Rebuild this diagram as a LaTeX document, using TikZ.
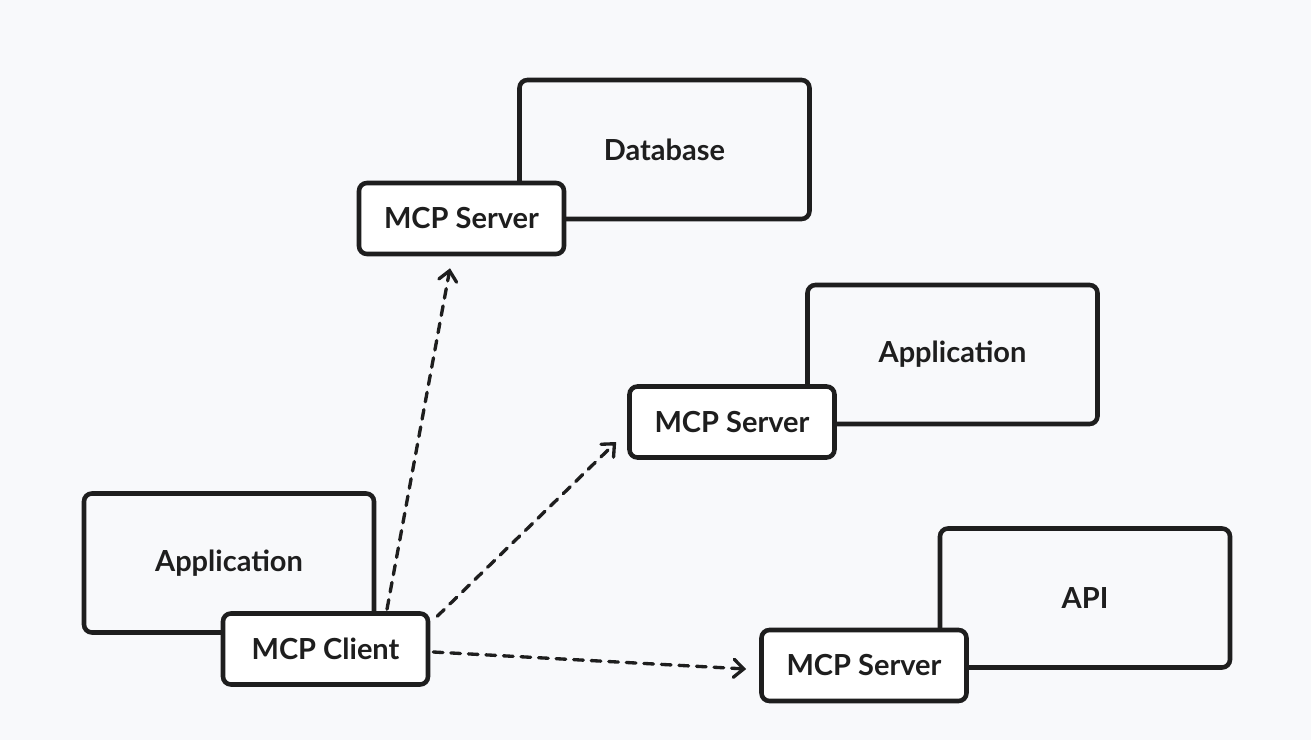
\documentclass[tikz,border=0pt]{standalone}
\usepackage{fontspec}
\setmainfont{Lato}
\usetikzlibrary{arrows.meta}
\definecolor{paper}{RGB}{248,249,251}
\definecolor{ink}{RGB}{30,30,30}
\begin{document}
\begin{tikzpicture}[
  bigbox/.style={draw=ink, line width=2.6pt, rounded corners=0.16cm, fill=paper,
    minimum width=5.8cm, minimum height=2.78cm, font=\fontsize{16.5}{19}\selectfont\bfseries, text=ink},
  smallbox/.style={draw=ink, line width=2.6pt, rounded corners=0.16cm, fill=white,
    minimum width=4.1cm, minimum height=1.42cm, font=\fontsize{16.5}{19}\selectfont\bfseries, text=ink},
  link/.style={draw=ink, line width=1.9pt, dash pattern=on 5.5pt off 4.5pt, line cap=round,
    -{Straight Barb[length=0.2cm, width=0.36cm, line cap=round]}}
]
\fill[paper] (0,0) rectangle (26.22,14.8);
% storage side
\node[bigbox] (db) at (13.29,11.81) {Database};
\node[smallbox] (srvdb) at (9.23,10.43) {MCP Server};
% second application
\node[bigbox] (app) at (19.05,7.71) {Application};
\node[smallbox] (srvapp) at (14.64,6.36) {MCP Server};
% api
\node[bigbox] (api) at (21.70,2.84) {API};
\node[smallbox] (srvapi) at (17.28,1.49) {MCP Server};
% host application with the client
\node[bigbox] (host) at (4.58,3.54) {Application};
\node[smallbox] (client) at (6.51,1.82) {MCP Client};
% connections
\draw[link] ([xshift=1.23cm,yshift=0.04cm]client.north) -- ([xshift=-0.23cm,yshift=-0.24cm]srvdb.south);
\draw[link] ([xshift=0.14cm,yshift=-0.1cm]client.north east) -- ([xshift=-0.22cm,yshift=-0.4cm]srvapp.west);
\draw[link] ([xshift=0.06cm,yshift=-0.06cm]client.east) -- ([xshift=-0.26cm,yshift=-0.07cm]srvapi.west);
\end{tikzpicture}
\end{document}
